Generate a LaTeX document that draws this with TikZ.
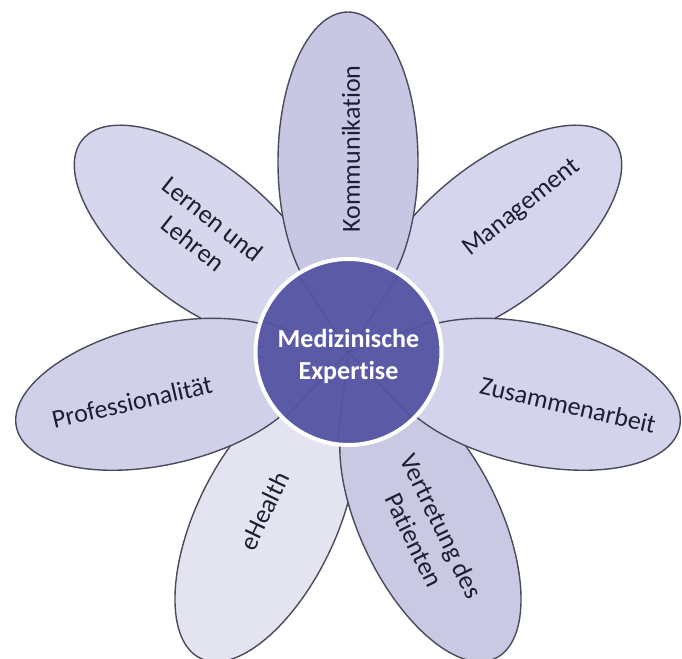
\documentclass[tikz,border=0pt]{standalone}
\usepackage{fontspec}
\setmainfont[Ligatures=NoCommon]{Carlito}
\usetikzlibrary{shapes.geometric}
\definecolor{petalline}{HTML}{4A4A5C}
\definecolor{txt}{HTML}{1E1E32}
\definecolor{hubfill}{HTML}{5B5AA6}
\definecolor{hubline}{HTML}{52519D}
\definecolor{cKom}{HTML}{C7C7E3}
\definecolor{cMan}{HTML}{D5D5ED}
\definecolor{cZus}{HTML}{D3D3EB}
\definecolor{cVer}{HTML}{C9C9E3}
\definecolor{cEh}{HTML}{E4E4F1}
\definecolor{cPro}{HTML}{D0D0E8}
\definecolor{cLer}{HTML}{D6D6EC}
\begin{document}
\begin{tikzpicture}[x=1pt,y=1pt,
  petal/.style={ellipse, draw=petalline, line width=1.4pt, minimum width=300pt, minimum height=140pt, inner sep=0pt},
  lbl/.style={text=txt, font=\fontsize{26}{31}\selectfont, align=center, inner sep=0pt},
  hub/.style={circle, fill=hubfill, minimum size=186pt, inner sep=0pt},
  hubring/.style={circle, draw=white, line width=4pt, minimum size=186pt, inner sep=0pt},
  hubtext/.style={text=white, font=\bfseries\fontsize{26}{32}\selectfont, align=center, inner sep=0pt},
  spoke/.style={hubline, line width=1pt}]
\fill[white] (-348,-306) rectangle (334,352);
\useasboundingbox (-348,-306) rectangle (334,352);
% petals, bottom to top
\node[petal, fill=cEh,  rotate=244.29] (pEh)  at (244.29:190) {};
\node[petal, fill=cLer, rotate=141.43] (pLer) at (141.43:190) {};
\node[petal, fill=cMan, rotate=38.57]  (pMan) at (38.57:190) {};
\node[petal, fill=cPro, rotate=192.86] (pPro) at (192.86:190) {};
\node[petal, fill=cVer, rotate=295.71] (pVer) at (295.71:190) {};
\node[petal, fill=cKom, rotate=90]     (pKom) at (90:190) {};
\node[petal, fill=cZus, rotate=347.14] (pZus) at (347.14:190) {};
% labels
\node[lbl, rotate=90]     (tKom) at (3,203)     {Kommunikation};
\node[lbl, rotate=38.57]  (tMan) at (174,144)   {Management};
\node[lbl, rotate=-12.86] (tZus) at (220,-53)   {Zusammenarbeit};
\node[lbl, rotate=-64.29] (tVer) at (80,-181)   {Vertretung des\\Patienten};
\node[lbl, rotate=64.29]  (tEh)  at (-84,-159)  {eHealth};
\node[lbl, rotate=12.86]  (tPro) at (-216,-50)  {Professionalität};
\node[lbl, rotate=-38.57] (tLer) at (-145,121)  {Lernen und\\Lehren};
% centre
\node[hub] (mid) at (0.5,0) {};
\foreach \a in {123,160,226,263,314,20,57}
  \draw[spoke] (mid.center) -- (mid.\a);
\node[hubring] (ring) at (mid.center) {};
\node[hubtext] (midtext) at (0.5,-4) {Medizinische\\Expertise};
\end{tikzpicture}
\end{document}
